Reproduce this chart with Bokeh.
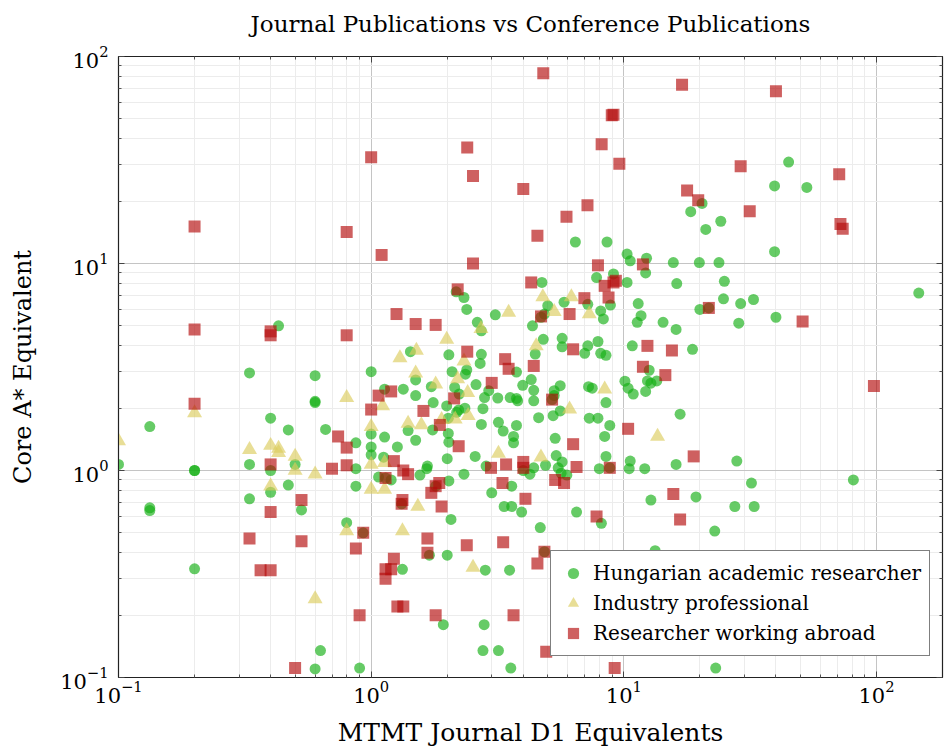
from bokeh.plotting import figure
from bokeh.models import FixedTicker, LogTickFormatter, LogAxis, Range1d, CustomJSTickFormatter, Title
from bokeh.embed import file_html
from bokeh.resources import INLINE

# ---------------- data ----------------
hu_x = [0.1, 0.133, 0.133, 0.133, 0.2, 0.2, 0.2, 0.33, 0.33, 0.33, 0.4, 0.4, 0.4, 0.43, 0.47, 0.47,
        0.5, 0.53, 0.6, 0.6, 0.6, 0.6, 0.63, 0.66,
        2.17, 2.33, 2.39, 3.1, 2.63, 2.73, 4.35, 1.43, 2.03, 2.73, 2.7, 3.76, 4.3, 3.98, 1.0, 2.09,
        2.39, 2.36, 1.5, 2.6, 1.73, 2.14, 2.92, 2.23, 1.13, 1.34, 1.5, 2.81, 3.17, 3.55, 3.76, 3.8,
        1.76, 1.99, 2.22, 2.35, 2.77, 2.18, 2.02, 1.75, 1.4, 2.02, 2.73, 3.19, 3.33, 3.76, 3.66, 3.66,
        0.87, 1.0, 1.0, 1.13, 1.27, 1.5, 2.03, 2.58, 1.0, 1.12, 2.0, 1.67, 2.85, 4.0, 0.87, 1.66,
        1.07, 1.14, 1.2, 1.56, 1.8, 2.03, 2.33, 3.6, 3.0, 3.36, 3.6, 3.94, 0.87, 1.32, 2.07, 0.8,
        0.93, 1.7, 2.0, 2.83, 3.53, 1.33, 1.93, 2.8, 2.77, 3.19, 0.9, 3.57,
        12.2, 9.1, 7.8, 4.74, 10.3, 16.2, 25, 24.8, 5.8, 7.2, 8.85, 5.0, 4.85, 4.7, 8.1, 8.3,
        11.4, 11.7, 11.3, 14.3, 16.1, 20, 21.7, 28.5, 4.8, 5.7, 7.9, 4.46, 5.7, 7.2, 7.0, 8.1,
        8.5, 10.8, 18.7, 12.6, 12.4, 13.5, 12.8, 12.2, 10.1, 10.4, 10.9, 4.4, 4.4, 5.6, 5.3, 5.3,
        5.2, 7.25, 7.5, 8.5, 5.6, 5.25, 4.6, 7.3, 7.9, 8.8, 16.7, 5.35, 8.4, 5.4, 8.5, 10.6,
        16.1, 4.9, 5.7, 5.5, 8.8, 8.0, 10.5, 12.1, 4.4, 28,
        4.25, 5.65, 5.95, 6.5, 8.15, 4.67, 4.85, 12.8, 19.3, 22.9, 13.3, 27.5, 23.1,
        32, 32.8, 81, 147, 29, 32.6, 40, 44.9, 39.5, 53, 39.5,
        20.4, 18.4, 24.2, 21.1, 6.43, 8.58, 10.3, 10.6, 12.3, 15.7, 19.9, 23.8]
hu_y = [1.07, 1.63, 0.66, 0.64, 1.0, 1.0, 0.335, 2.96, 1.07, 0.73, 1.79, 1.0, 0.785, 5.0, 1.57, 0.85,
        1.07, 0.645, 2.87, 2.16, 2.13, 0.11, 0.135, 1.58,
        7.3, 6.85, 6.0, 5.65, 5.2, 4.73, 5.0, 3.75, 3.62, 3.64, 3.29, 2.99, 2.75, 2.58, 3.0, 3.0,
        3.06, 2.92, 2.74, 2.6, 2.54, 2.52, 2.43, 2.34, 2.47, 2.47, 2.3, 2.25, 2.24, 2.25, 2.23, 2.17,
        2.13, 2.05, 1.96, 2.0, 1.99, 1.91, 1.79, 1.57, 1.56, 1.51, 1.67, 1.71, 1.55, 1.65, 1.46, 1.36,
        1.36, 1.5, 1.3, 1.45, 1.3, 1.4, 1.37, 1.17, 1.19, 1.16, 1.14, 1.05, 1.05, 1.0, 1.02, 1.02,
        0.93, 0.92, 0.9, 0.95, 0.84, 0.89, 0.96, 0.84, 0.78, 0.67, 0.67, 0.63, 0.84, 0.69, 0.58, 0.56,
        0.5, 0.39, 0.39, 0.33, 0.33, 0.333, 0.18, 0.18, 0.135, 0.135, 0.111, 0.111,
        9.0, 8.9, 8.55, 8.1, 8.1, 8.0, 8.2, 6.75, 6.5, 6.35, 6.3, 6.25, 5.7, 5.5, 5.9, 5.4,
        6.4, 5.6, 5.2, 5.2, 4.8, 6.0, 6.1, 5.15, 4.3, 4.35, 4.2, 3.65, 3.96, 4.0, 3.68, 3.68,
        3.6, 4.0, 3.85, 3.05, 2.71, 2.71, 2.64, 2.41, 2.7, 2.5, 2.34, 2.44, 2.17, 2.57, 2.43, 2.3,
        2.2, 2.54, 2.5, 2.13, 1.94, 1.84, 1.8, 1.79, 1.79, 1.65, 1.87, 1.43, 1.46, 1.18, 1.17, 1.11,
        1.07, 1.06, 1.1, 1.03, 1.03, 1.02, 1.02, 1.02, 1.03, 1.11,
        0.96, 0.97, 0.95, 0.63, 0.556, 0.53, 0.405, 0.72, 0.745, 0.51, 0.41, 0.67, 0.111,
        0.87, 0.67, 0.9, 7.2, 6.4, 6.7, 5.5, 30.9, 23.7, 23.3, 11.4,
        19.5, 17.8, 16.0, 14.6, 12.7, 12.7, 11.1, 10.3, 10.6, 10.1, 10.1, 10.1]

ind_x = [0.1, 0.2, 0.33, 0.4, 0.43, 0.43, 0.5, 0.5, 0.6, 0.6, 0.4, 0.8, 1.0, 1.0, 1.11, 1.13,
         1.3, 1.51, 1.5, 1.8, 1.99, 2.2, 2.33, 2.41, 2.42, 2.15, 1.9, 1.4, 1.58, 2.72, 3.5, 3.19,
         1.0, 1.13, 1.53, 0.8, 1.33, 2.53, 4.78, 6.2, 5.3, 7.3, 4.5, 8.4, 6.1, 13.6, 4.7]
ind_y = [1.39, 1.9, 1.26, 1.32, 1.28, 1.22, 1.17, 1.0, 0.96, 0.24, 0.84, 2.25, 1.63, 1.07, 2.05, 1.09,
         3.5, 3.8, 2.95, 2.61, 4.3, 2.77, 3.37, 2.38, 1.84, 1.77, 1.76, 1.69, 1.66, 4.85, 5.8, 1.21,
         0.81, 0.81, 0.67, 0.51, 0.51, 0.34, 6.9, 6.9, 5.85, 5.7, 4.0, 2.47, 1.98, 1.46, 1.16]

abr_x = [0.2, 0.2, 0.2, 0.33, 0.365, 0.4, 0.4, 0.4, 0.4, 0.4, 0.5, 0.53, 0.53, 0.7, 0.74, 0.8,
         0.8, 0.8, 0.8, 0.87, 0.9, 0.93, 1.0, 1.0, 1.07, 1.1, 1.14, 1.2, 1.23, 1.26, 1.23, 1.14,
         1.2, 1.14, 1.27, 1.34, 1.32, 1.33, 1.34, 1.4, 1.5, 1.61, 1.67, 1.67, 1.73, 1.8, 1.8, 1.8,
         1.86, 1.87, 1.9, 2.13, 2.2, 2.22, 2.39, 2.4, 2.4, 2.53, 2.53, 3.0, 2.98, 3.31, 3.33, 3.39,
         3.42, 3.5, 3.66, 4.0, 4.0, 4.0, 4.08, 4.3, 4.4, 4.55, 4.55, 4.7, 4.8, 4.85, 4.93, 5.2,
         5.35, 5.8, 5.93, 6.1, 6.3, 6.3, 6.5, 6.98, 7.18, 7.8, 7.9, 8.17, 8.4, 8.7, 8.8, 8.96,
         9.1, 9.1, 9.3, 9.2, 9.6, 10.4, 11.9, 11.9, 12.4, 14.6, 15.5, 15.7, 16.7, 17, 17.8, 18.9,
         19.7, 21.7, 29, 31.5, 40, 51, 71.2, 72, 73.5, 97.7]
abr_y = [15.1, 4.8, 2.1, 0.47, 0.33, 0.33, 4.7, 4.5, 1.07, 0.63, 0.111, 0.455, 0.72, 1.02, 1.46, 14.2,
         4.5, 1.29, 1.06, 0.42, 0.2, 0.5, 32.6, 1.97, 2.3, 11.0, 0.92, 2.41, 1.11, 5.7, 0.375, 0.333,
         0.333, 0.3, 0.22, 0.22, 0.69, 0.72, 1.0, 0.96, 5.1, 1.94, 0.47, 0.4, 0.78, 5.05, 0.84, 0.2,
         0.87, 1.66, 0.67, 2.23, 7.5, 1.31, 0.435, 36.3, 3.75, 26.5, 10.0, 2.65, 1.03, 0.87, 0.45, 3.45,
         1.07, 3.1, 0.2, 22.9, 1.1, 1.03, 0.73, 8.1, 3.2, 13.6, 0.355, 5.55, 83, 0.405, 0.133, 2.2,
         0.9, 0.87, 16.8, 5.7, 3.85, 1.34, 1.04, 6.8, 19.1, 0.6, 9.8, 37.7, 7.8, 6.85, 1.03, 52,
         52.3, 8.1, 8.25, 0.111, 30.3, 1.59, 9.9, 3.17, 4.0, 2.89, 3.8, 0.77, 0.58, 73, 22.5, 1.17,
         20.2, 6.1, 29.5, 17.9, 68, 5.25, 27, 15.5, 14.7, 2.56]

series_labels = ["Hungarian academic researcher", "Industry professional", "Researcher working abroad"]

x_limits = (0.1, 182.5)
y_limits = (0.1, 100)
major_ticks = [0.1, 1, 10, 100]
minor_multipliers = [2, 3, 4, 5, 6, 7, 8, 9]
minor_ticks = [m * d for d in [0.01, 0.1, 1, 10, 100] for m in minor_multipliers]

FONT = "DejaVu Serif"

p = figure(width=944, height=749, x_axis_type="log", y_axis_type="log",
           x_range=Range1d(*x_limits), y_range=Range1d(*y_limits),
           output_backend="svg", toolbar_location=None,
           title="Journal Publications vs Conference Publications",
           min_border_left=118, min_border_right=2, min_border_top=56, min_border_bottom=71)

p.background_fill_color = "white"
p.border_fill_color = "white"
p.outline_line_color = "#222222"
p.outline_line_width = 1.2

p.title.align = "center"
p.title.text_font = FONT
p.title.text_font_size = "23px"
p.title.text_font_style = "normal"
p.title.text_color = "black"
p.title.standoff = 4

ticker = FixedTicker(ticks=major_ticks, minor_ticks=minor_ticks)
fmt = LogTickFormatter()

for ax in p.xaxis + p.yaxis:
    ax.ticker = ticker
    ax.formatter = fmt
    ax.major_label_text_font = FONT
    ax.major_label_text_font_size = "21px"
    ax.major_label_text_color = "black"
    ax.axis_label_text_font = FONT
    ax.axis_label_text_font_size = "24px"
    ax.axis_label_text_font_style = "normal"
    ax.axis_label_text_color = "black"
    ax.major_tick_in = 6
    ax.major_tick_out = 0
    ax.minor_tick_in = 3
    ax.minor_tick_out = 0
    ax.major_tick_line_color = "#444444"
    ax.minor_tick_line_color = "#555555"
    ax.axis_line_color = "#222222"

p.xaxis.axis_label = "MTMT Journal D1 Equivalents"
p.yaxis.axis_label = "Core A* Equivalent"
p.xaxis.axis_label_text_font_size = "25px"
p.xaxis.major_label_standoff = 3
p.xaxis.axis_label_standoff = 12
p.yaxis.major_label_standoff = 10
p.yaxis.axis_label_standoff = 20

blank = CustomJSTickFormatter(code="return '';")
for loc in ["above", "right"]:
    extra = LogAxis(ticker=ticker, formatter=blank, major_label_text_font_size="1px",
                    major_label_standoff=0, major_tick_in=6, major_tick_out=0,
                    minor_tick_in=3, minor_tick_out=0, major_tick_line_color="#444444",
                    minor_tick_line_color="#555555", axis_line_color="#222222")
    p.add_layout(extra, loc)

# invisible spacer between the frame and the title (lifts the title up)
spacer = Title(text="\u00a0", text_font_size="10px", standoff=5, text_color="white")
p.add_layout(spacer, "above")

for g in [p.xgrid, p.ygrid]:
    g.ticker = ticker
    g.grid_line_color = "#c4c4c4"
    g.grid_line_width = 1
    g.minor_grid_line_color = "#ececec"
    g.minor_grid_line_width = 1

p.scatter(hu_x, hu_y, marker="circle", size=11, fill_color="#14af14", fill_alpha=0.65,
          line_color=None, legend_label=series_labels[0])
p.scatter(ind_x, ind_y, marker="triangle", size=15, fill_color="#dccd5e", fill_alpha=0.65,
          line_color=None, legend_label=series_labels[1])
p.scatter(abr_x, abr_y, marker="square", size=12, fill_color="#b40a0a", fill_alpha=0.65,
          line_color=None, legend_label=series_labels[2])

lg = p.legend[0]
lg.location = (432, 21)
lg.label_text_font = FONT
lg.label_text_font_size = "20px"
lg.label_text_color = "black"
lg.border_line_color = "black"
lg.border_line_width = 1
lg.background_fill_alpha = 1
lg.glyph_height = 28
lg.glyph_width = 28
lg.label_height = 28
lg.spacing = 2
lg.padding = 8
lg.label_standoff = 6

open("out.html", "w").write(file_html(p, INLINE))
